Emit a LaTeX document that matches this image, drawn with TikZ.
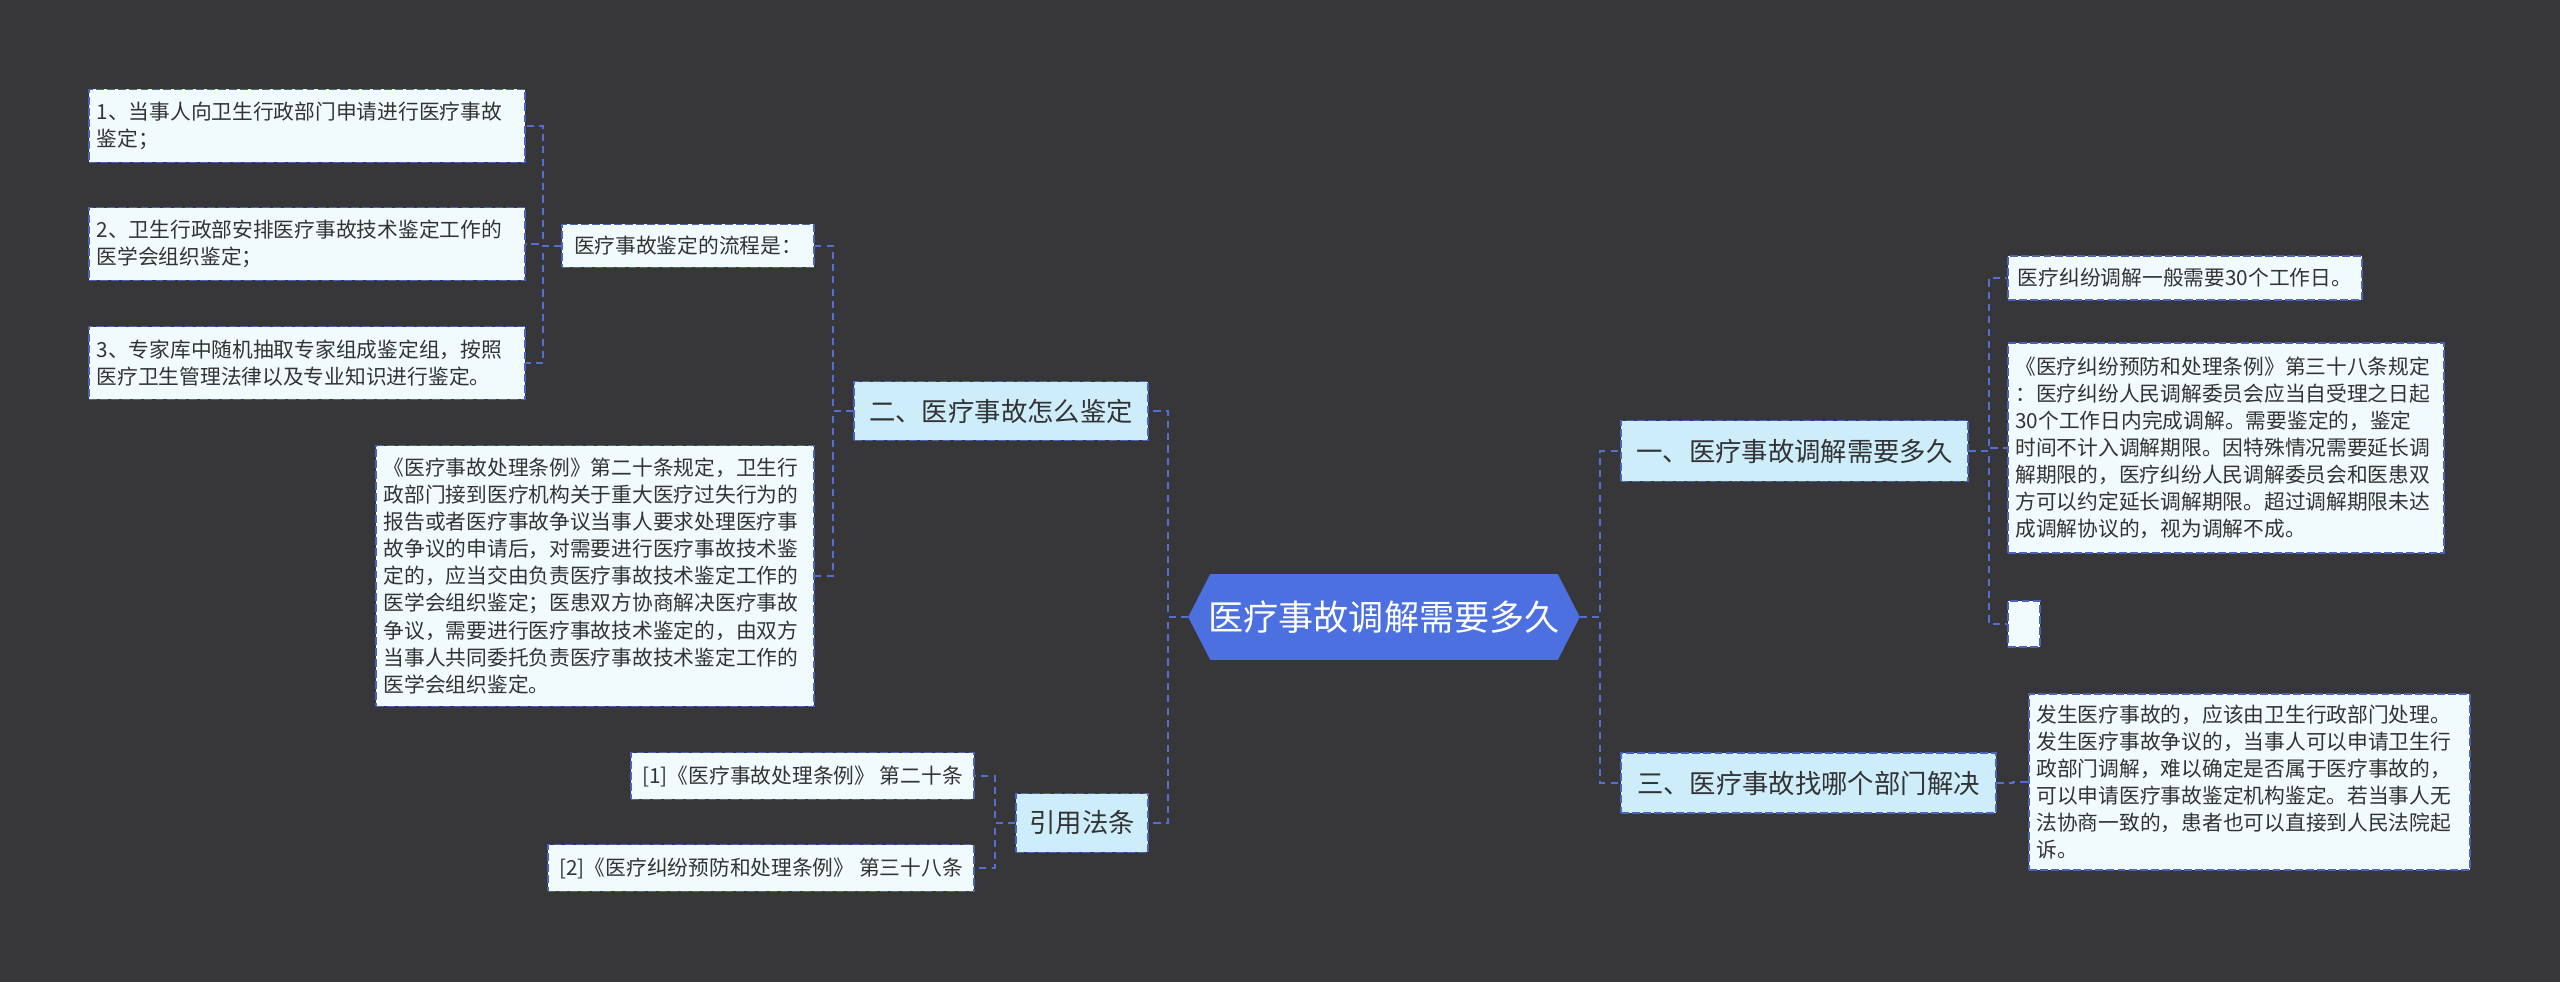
\documentclass[tikz,border=0pt]{standalone}
\usepackage{fontspec}
\setmainfont{Noto Sans CJK SC}
\usetikzlibrary{backgrounds}
\definecolor{canvas}{HTML}{373639}
\definecolor{rootBlue}{HTML}{4D70E0}
\definecolor{branchSky}{HTML}{CDEDFB}
\definecolor{leafWhite}{HTML}{F1FBFE}
\definecolor{edgeBlue}{HTML}{4A63BC}
\definecolor{linkBlue}{HTML}{5270D4}
\definecolor{inkGray}{HTML}{333333}
\newcommand{\leaffont}{\fontsize{11.8pt}{15.4pt}\selectfont}
\newcommand{\branchfont}{\fontsize{15pt}{18pt}\selectfont}
\newcommand{\rootfont}{\fontsize{20pt}{24pt}\selectfont}

\begin{document}
\begin{tikzpicture}[
  x=0.02cm,y=-0.02cm,
  box/.style={draw=edgeBlue,fill=leafWhite,dash pattern=on 4.5pt off 1.8pt,line width=1.1pt,
              text=inkGray,inner xsep=0.15cm,inner ysep=0.06cm},
  leaf/.style={box,font=\leaffont},
  para/.style={leaf,align=left,text width=#1},
  branch/.style={box,fill=branchSky,font=\branchfont},
  root/.style={font=\rootfont,text=white,minimum width=7.82cm,minimum height=1.7cm},
  link/.style={draw=linkBlue,dash pattern=on 4pt off 3pt,line width=1.2pt}
]
  % ── centre ────────────────────────────────────────────────────────────────
  \node[root] (root) at (1384,617) {医疗事故调解需要多久};

  % ── left side: 二、医疗事故怎么鉴定 ─────────────────────────────────────────
  \node[branch,minimum width=5.88cm,minimum height=1.18cm] (br2) at (1001,411) {二、医疗事故怎么鉴定};
  \node[leaf,anchor=east,minimum width=5.04cm,minimum height=0.86cm] (flow) at (815,246) {医疗事故鉴定的流程是：};
  \node[para=8.42cm,anchor=east,minimum height=1.46cm] (s1) at (526,126) {1、当事人向卫生行政部门申请进行医疗事故\\鉴定；};
  \node[para=8.42cm,anchor=east,minimum height=1.46cm] (s2) at (526,244) {2、卫生行政部安排医疗事故技术鉴定工作的\\医学会组织鉴定；};
  \node[para=8.42cm,anchor=east,minimum height=1.46cm] (s3) at (526,363) {3、专家库中随机抽取专家组成鉴定组，按照\\医疗卫生管理法律以及专业知识进行鉴定。};
  \node[para=8.46cm,anchor=east,minimum height=5.22cm] (art20) at (815,576)
    {《医疗事故处理条例》第二十条规定，卫生行\\政部门接到医疗机构关于重大医疗过失行为的\\报告或者医疗事故争议当事人要求处理医疗事\\故争议的申请后，对需要进行医疗事故技术鉴\\定的，应当交由负责医疗事故技术鉴定工作的\\医学会组织鉴定；医患双方协商解决医疗事故\\争议，需要进行医疗事故技术鉴定的，由双方\\当事人共同委托负责医疗事故技术鉴定工作的\\医学会组织鉴定。};

  % ── left side: 引用法条 ────────────────────────────────────────────────────
  \node[branch,minimum width=2.64cm,minimum height=1.18cm] (cite) at (1082,823) {引用法条};
  \node[leaf,anchor=east,minimum width=6.86cm,minimum height=0.94cm] (ref1) at (975,776) {[1]《医疗事故处理条例》 第二十条};
  \node[leaf,anchor=east,minimum width=8.52cm,minimum height=0.94cm] (ref2) at (975,868) {[2]《医疗纠纷预防和处理条例》 第三十八条};

  % ── right side: 一、医疗事故调解需要多久 ───────────────────────────────────
  \node[branch,anchor=west,minimum width=6.94cm,minimum height=1.22cm] (br1) at (1620,451) {一、医疗事故调解需要多久};
  \node[leaf,anchor=west,minimum width=7.08cm,minimum height=0.88cm] (r30) at (2007,278) {医疗纠纷调解一般需要30个工作日。};
  \node[para=8.42cm,anchor=west,minimum height=4.2cm] (art38) at (2007,448)
    {《医疗纠纷预防和处理条例》第三十八条规定\\：医疗纠纷人民调解委员会应当自受理之日起\\30个工作日内完成调解。需要鉴定的，鉴定\\时间不计入调解期限。因特殊情况需要延长调\\解期限的，医疗纠纷人民调解委员会和医患双\\方可以约定延长调解期限。超过调解期限未达\\成调解协议的，视为调解不成。};
  \node[leaf,anchor=west,minimum width=0.64cm,minimum height=0.92cm] (blank) at (2007,624) {};

  % ── right side: 三、医疗事故找哪个部门解决 ─────────────────────────────────
  \node[branch,anchor=west,minimum width=7.5cm,minimum height=1.2cm] (br3) at (1620,783) {三、医疗事故找哪个部门解决};
  \node[para=8.52cm,anchor=west,minimum height=3.52cm] (dept) at (2028,782)
    {发生医疗事故的，应该由卫生行政部门处理。\\发生医疗事故争议的，当事人可以申请卫生行\\政部门调解，难以确定是否属于医疗事故的，\\可以申请医疗事故鉴定机构鉴定。若当事人无\\法协商一致的，患者也可以直接到人民法院起\\诉。};

  % ── connectors ────────────────────────────────────────────────────────────
  \foreach \kid in {br2,cite} \draw[link] (root.west) -- ++(-20,0) |- (\kid.east);
  \foreach \kid in {br1,br3} \draw[link] (root.east) -- ++(20,0) |- (\kid.west);
  \foreach \kid in {flow,art20} \draw[link] (br2.west) -- ++(-20,0) |- (\kid.east);
  \foreach \kid in {s1,s2,s3} \draw[link] (flow.west) -- ++(-18,0) |- (\kid.east);
  \foreach \kid in {ref1,ref2} \draw[link] (cite.west) -- ++(-20,0) |- (\kid.east);
  \foreach \kid in {r30,art38,blank} \draw[link] (br1.east) -- ++(20,0) |- (\kid.west);
  \draw[link] (br3.east) -- ++(16,0) |- (dept.west);

  % ── canvas and centre shape ───────────────────────────────────────────────
  \begin{scope}[on background layer]
    \fill[canvas] (0,0) rectangle (2560,982);
    \fill[rootBlue] (root.west) -- ([xshift=0.44cm]root.north west) -- ([xshift=-0.44cm]root.north east)
      -- (root.east) -- ([xshift=-0.44cm]root.south east) -- ([xshift=0.44cm]root.south west) -- cycle;
  \end{scope}
\end{tikzpicture}
\end{document}
